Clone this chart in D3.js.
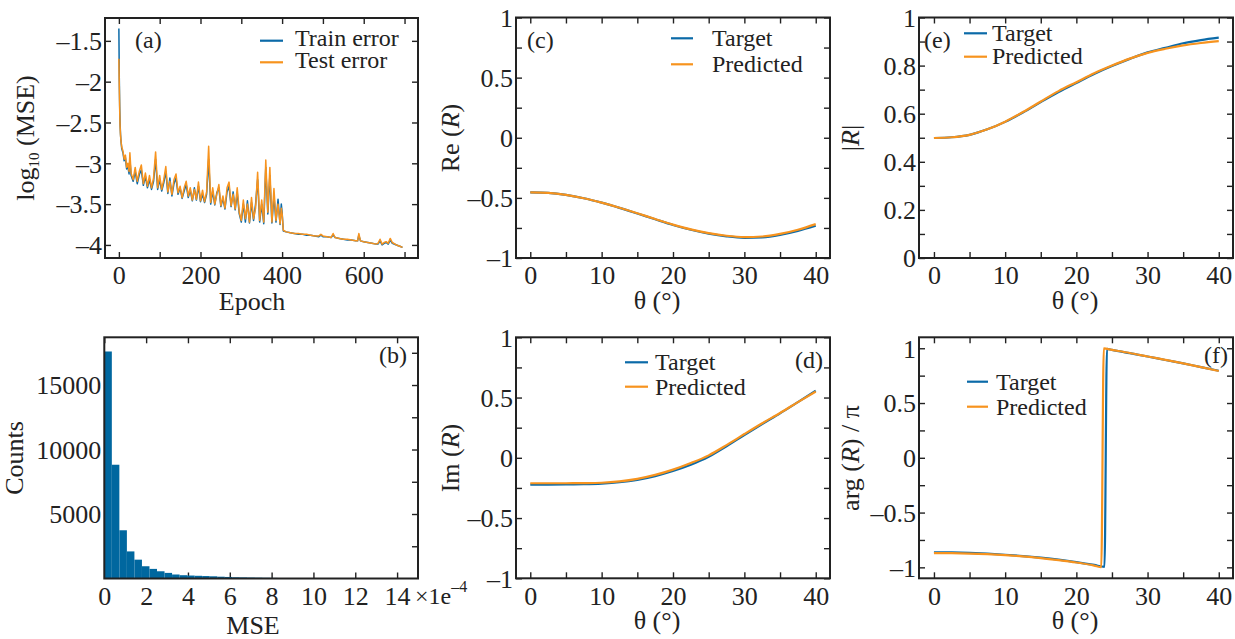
<!DOCTYPE html>
<html>
<head>
<meta charset="utf-8">
<script src="https://cdn.jsdelivr.net/npm/d3@7"></script>
<style>
html, body { margin: 0; padding: 0; background: #fff; }
svg { display: block; font-family: "Liberation Serif", "Times New Roman", serif; }
</style>
</head>
<body>
<svg id="chart" width="1235" height="639"></svg>
<script>
// ---- data ----
// (a) training history, log10(MSE)
const epochs = [
  0, 1, 2, 3, 4, 5, 7, 10, 13, 16,
  19, 22, 25, 27, 30, 35, 40, 45, 50, 55,
  60, 65, 70, 75, 80, 85, 90, 95, 100, 105,
  110, 115, 120, 125, 130, 135, 140, 145, 150, 155,
  160, 165, 170, 175, 180, 185, 190, 195, 200, 205,
  210, 215, 220, 225, 230, 235, 240, 245, 250, 255,
  260, 265, 270, 275, 280, 285, 290, 295, 300, 305,
  310, 315, 320, 325, 330, 335, 340, 345, 350, 355,
  360, 365, 370, 375, 380, 385, 390, 395, 398, 400,
  403, 410, 420, 430, 440, 450, 460, 470, 480, 490,
  495, 500, 510, 520, 525, 530, 540, 550, 560, 570,
  580, 585, 588, 592, 600, 610, 620, 630, 635, 640,
  645, 650, 655, 660, 665, 670, 680, 690, 695
];
const testErr = [
  -1.72, -2.05, -2.35, -2.55, -2.65, -2.72, -2.8, -2.85, -2.95, -2.9,
  -3.05, -3.0, -3.1, -2.87, -3.12, -3.2, -3.05, -3.22, -3.1, -3.02,
  -3.25, -3.12, -3.28, -3.15, -3.3, -3.18, -2.86, -3.3, -3.15, -3.32,
  -3.2, -3.04, -3.35, -3.22, -3.38, -3.2, -3.13, -3.36, -3.28, -3.42,
  -3.3, -3.22, -3.4, -3.3, -3.45, -3.32, -3.44, -3.23, -3.46, -3.33,
  -3.47, -3.35, -2.79, -3.48, -3.3, -3.5, -3.38, -3.26, -3.52, -3.4,
  -3.55, -3.3, -3.23, -3.52, -3.38, -3.56, -3.3, -3.6, -3.7, -3.45,
  -3.68, -3.5, -3.72, -3.42, -3.68, -3.55, -3.11, -3.7, -3.45, -3.72,
  -2.96, -3.6, -3.05, -3.72, -3.31, -3.7, -3.5, -3.74, -3.55, -3.62,
  -3.82, -3.84, -3.85, -3.86, -3.86, -3.87, -3.87, -3.88, -3.89, -3.89,
  -3.87, -3.89, -3.9, -3.91, -3.86, -3.91, -3.92, -3.93, -3.93, -3.94,
  -3.95, -3.95, -3.86, -3.95, -3.96, -3.97, -3.98, -3.99, -3.98, -3.93,
  -3.99, -3.97, -3.96, -3.98, -3.92, -3.97, -4.0, -4.02, -4.03
];
const trainErr = [
  -1.35, -1.95, -2.3, -2.52, -2.64, -2.72, -2.82, -2.87, -2.97, -2.93,
  -3.07, -3.04, -3.13, -2.95, -3.15, -3.22, -3.1, -3.25, -3.14, -3.08,
  -3.27, -3.16, -3.3, -3.2, -3.32, -3.22, -2.95, -3.32, -3.2, -3.34,
  -3.24, -3.1, -3.37, -3.18, -3.4, -3.25, -3.18, -3.38, -3.3, -3.43,
  -3.34, -3.26, -3.42, -3.33, -3.46, -3.3, -3.45, -3.28, -3.47, -3.38,
  -3.48, -3.38, -2.95, -3.5, -3.34, -3.51, -3.36, -3.3, -3.53, -3.43,
  -3.56, -3.35, -3.28, -3.53, -3.35, -3.57, -3.36, -3.62, -3.72, -3.5,
  -3.72, -3.46, -3.73, -3.48, -3.7, -3.5, -3.2, -3.72, -3.5, -3.74,
  -3.05, -3.62, -3.15, -3.73, -3.4, -3.72, -3.44, -3.75, -3.5, -3.6,
  -3.83, -3.84, -3.85, -3.86, -3.87, -3.87, -3.88, -3.88, -3.89, -3.9,
  -3.88, -3.9, -3.9, -3.91, -3.88, -3.91, -3.92, -3.93, -3.94, -3.94,
  -3.95, -3.95, -3.88, -3.95, -3.96, -3.97, -3.98, -3.99, -3.99, -3.95,
  -4.0, -3.98, -3.97, -3.99, -3.94, -3.98, -4.0, -4.02, -4.03
];

// (b) histogram of MSE (x1e-4), bins of 0.36
const binWidth = 0.36;
const histCounts = [
  17600, 8820, 3740, 2100, 1460, 950, 745, 560, 435, 310,
  255, 230, 210, 190, 170, 140, 120, 95, 85, 75,
  65, 55, 45, 20, 12, 8, 5, 3, 2, 1, 1
];

// (c)-(f) reflection coefficient vs angle
const theta = [0, 2.5, 5, 7.5, 10, 12.5, 15, 17.5, 20, 22.5, 25, 27.5, 30, 32.5, 35, 37.5, 40];
const reTarget = [-0.455, -0.459, -0.475, -0.503, -0.54, -0.583, -0.63, -0.678, -0.725, -0.765, -0.797, -0.82, -0.832, -0.828, -0.808, -0.775, -0.732];
const rePred   = [-0.455, -0.459, -0.475, -0.503, -0.54, -0.582, -0.628, -0.676, -0.722, -0.762, -0.793, -0.815, -0.826, -0.821, -0.8, -0.765, -0.718];
const imTarget = [-0.222, -0.222, -0.221, -0.219, -0.214, -0.203, -0.183, -0.152, -0.11, -0.058, 0.008, 0.095, 0.189, 0.28, 0.369, 0.462, 0.556];
const imPred   = [-0.211, -0.211, -0.211, -0.21, -0.207, -0.196, -0.175, -0.142, -0.098, -0.043, 0.02, 0.105, 0.197, 0.287, 0.372, 0.462, 0.55];
const absTarget = [0.499, 0.502, 0.512, 0.535, 0.566, 0.605, 0.648, 0.69, 0.728, 0.765, 0.798, 0.828, 0.855, 0.874, 0.893, 0.906, 0.916];
const absPred   = [0.499, 0.502, 0.512, 0.535, 0.567, 0.607, 0.651, 0.694, 0.731, 0.768, 0.8, 0.829, 0.853, 0.87, 0.884, 0.894, 0.902];
const argThetaT = [0, 2.5, 5, 7.5, 10, 12.5, 15, 17.5, 20, 22.5, 23.95, 24.3, 25, 27.5, 30, 32.5, 35, 37.5, 40];
const argTarget = [-0.862, -0.864, -0.868, -0.875, -0.885, -0.897, -0.912, -0.93, -0.952, -0.978, -0.995, 0.994, 0.985, 0.955, 0.925, 0.893, 0.862, 0.828, 0.795];
const argThetaP = [0, 2.5, 5, 7.5, 10, 12.5, 15, 17.5, 20, 22.5, 23.5, 23.85, 25, 27.5, 30, 32.5, 35, 37.5, 40];
const argPred   = [-0.87, -0.871, -0.874, -0.88, -0.889, -0.9, -0.915, -0.934, -0.956, -0.984, -0.998, 0.998, 0.985, 0.957, 0.925, 0.894, 0.862, 0.828, 0.792];

// ticks
const epochTicks = [0, 100, 200, 300, 400, 500, 600, 700];
const epochLabels = [0, 200, 400, 600];
const logTicks = [-4, -3.5, -3, -2.5, -2, -1.5];
const mseTicks = [0, 2, 4, 6, 8, 10, 12, 14];
const countTicks = [2500, 5000, 7500, 10000, 12500, 15000, 17500];
const countLabels = [5000, 10000, 15000];
const thetaTicks = [0, 5, 10, 15, 20, 25, 30, 35, 40];
const thetaLabels = [0, 10, 20, 30, 40];
const unitTicks = [-1, -0.75, -0.5, -0.25, 0, 0.25, 0.5, 0.75, 1];
const unitLabels = [-1, -0.5, 0, 0.5, 1];
const absTicks = [0, 0.1, 0.2, 0.3, 0.4, 0.5, 0.6, 0.7, 0.8, 0.9, 1];
const absLabels = [0, 0.2, 0.4, 0.6, 0.8, 1];

const blue = "#0b6aa8", orange = "#f7931e", histBlue = "#00679f", ink = "#222";

const svg = d3.select("#chart");
// long dash for negatives, like the original
const fmt = v => d3.format("~g")(v).replace("−", "–");

function panel(o) {
  const x = d3.scaleLinear().domain(o.xd).range([o.l, o.r]);
  const y = d3.scaleLinear().domain(o.yd).range([o.b, o.t]);
  const g = svg.append("g");
  const tick = 6;
  const lab = list => v => list.includes(v) ? fmt(v) : "";

  const ax = [
    g.append("g").attr("transform", `translate(0,${o.b})`)
      .call(d3.axisBottom(x).tickValues(o.xt).tickFormat(lab(o.xl)).tickSize(-tick).tickPadding(8)),
    g.append("g").attr("transform", `translate(0,${o.t})`)
      .call(d3.axisTop(x).tickValues(o.xt).tickFormat("").tickSize(-tick)),
    g.append("g").attr("transform", `translate(${o.l},0)`)
      .call(d3.axisLeft(y).tickValues(o.yt).tickFormat(lab(o.yl)).tickSize(-tick).tickPadding(3)),
    g.append("g").attr("transform", `translate(${o.r},0)`)
      .call(d3.axisRight(y).tickValues(o.yt).tickFormat("").tickSize(-tick))
  ];
  ax.forEach(a => {
    a.attr("font-family", null).attr("font-size", null);
    a.select(".domain").remove();
    a.selectAll(".tick line").attr("stroke", ink).attr("stroke-width", 1.4);
    a.selectAll(".tick text").attr("fill", ink).style("font-size", "26px");
  });
  ax[2].selectAll(".tick text").attr("dy", "0.34em");

  const plot = g.append("g");
  g.append("rect")
    .attr("x", o.l).attr("y", o.t)
    .attr("width", o.r - o.l).attr("height", o.b - o.t)
    .attr("fill", "none").attr("stroke", ink).attr("stroke-width", 2);

  return { g, plot, x, y };
}

function yLabel(g, bx, cy, parts) {
  const t = g.append("text")
    .attr("transform", `translate(${bx},${cy}) rotate(-90)`)
    .attr("text-anchor", "middle")
    .attr("fill", ink)
    .style("font-size", "26px");
  parts.forEach(p => {
    const s = t.append("tspan").text(p.t);
    if (p.i) s.style("font-style", "italic");
    if (p.sub) s.style("font-size", "15px").attr("dy", "5");
    if (p.back) s.attr("dy", "-5");
  });
}

function xLabel(g, cx, by, txt) {
  g.append("text").attr("x", cx).attr("y", by)
    .attr("text-anchor", "middle").attr("fill", ink)
    .style("font-size", "26px").text(txt);
}

function tag(g, x, y, txt, anchor) {
  g.append("text").attr("x", x).attr("y", y)
    .attr("text-anchor", anchor || "start").attr("fill", ink)
    .style("font-size", "24px").text(txt);
}

function legend(g, x0, x1, tx, ys, names, colors, off) {
  names.forEach((n, i) => {
    g.append("line").attr("x1", x0).attr("x2", x1).attr("y1", ys[i]).attr("y2", ys[i])
      .attr("stroke", colors[i]).attr("stroke-width", 2.2);
    g.append("text").attr("x", tx).attr("y", ys[i] + off).attr("fill", ink)
      .style("font-size", "24px").text(n);
  });
}

function curve(p, xs, ys, color, w) {
  p.plot.append("path")
    .datum(xs.map((v, i) => [v, ys[i]]))
    .attr("fill", "none").attr("stroke", color).attr("stroke-width", w)
    .attr("stroke-linejoin", "round")
    .attr("d", d3.line().x(d => p.x(d[0])).y(d => p.y(d[1])).curve(w < 2 ? d3.curveLinear : d3.curveMonotoneX));
}

// ---- (a) ----
const A = panel({ l: 105, r: 418, t: 18, b: 258, xd: [-34, 733], yd: [-4.16, -1.22],
  xt: epochTicks, xl: epochLabels, yt: logTicks, yl: logTicks });
curve(A, epochs, trainErr, blue, 1.5);
curve(A, epochs, testErr, orange, 1.5);
legend(A.g, 260, 283, 295, [40.7, 62.3], ["Train error", "Test error"], [blue, orange], 5.5);
tag(A.g, 135, 47.5, "(a)");
xLabel(A.g, 252, 310, "Epoch");
yLabel(A.g, 43 - 9, 138, [{ t: "log" }, { t: "10", sub: true }, { t: " (MSE)", back: true }]);

// ---- (b) ----
const B = panel({ l: 104.3, r: 418, t: 337.3, b: 578.5, xd: [0, 15], yd: [0, 18700],
  xt: mseTicks, xl: mseTicks, yt: countTicks, yl: countLabels });
B.plot.selectAll("rect").data(histCounts).join("rect")
  .attr("x", (d, i) => B.x(i * binWidth))
  .attr("width", (d, i) => B.x((i + 1) * binWidth) - B.x(i * binWidth))
  .attr("y", d => B.y(d))
  .attr("height", d => B.y(0) - B.y(d))
  .attr("fill", histBlue);
tag(B.g, 407, 362.5, "(b)", "end");
xLabel(B.g, 253, 634, "MSE");
yLabel(B.g, 32 - 9, 458, [{ t: "Counts" }]);
const ex = B.g.append("text").attr("x", 415).attr("y", 604).attr("fill", ink).style("font-size", "24px");
ex.append("tspan").text("×1e");
ex.append("tspan").attr("dy", "-12").style("font-size", "16px").text("–4");

// ---- (c) ----
const C = panel({ l: 516, r: 830, t: 17.5, b: 258, xd: [-2, 42], yd: [-1, 1],
  xt: thetaTicks, xl: thetaLabels, yt: unitTicks, yl: unitLabels });
curve(C, theta, reTarget, blue, 2.2);
curve(C, theta, rePred, orange, 2.2);
legend(C.g, 671, 693, 712, [38.3, 64.3], ["Target", "Predicted"], [blue, orange], 8);
tag(C.g, 527, 47.5, "(c)");
xLabel(C.g, 657, 309, "θ (°)");
yLabel(C.g, 468 - 9, 138, [{ t: "Re (" }, { t: "R", i: true }, { t: ")" }]);

// ---- (d) ----
const D = panel({ l: 516, r: 830, t: 337.3, b: 578.3, xd: [-2, 42], yd: [-1, 1],
  xt: thetaTicks, xl: thetaLabels, yt: unitTicks, yl: unitLabels });
curve(D, theta, imTarget, blue, 2.2);
curve(D, theta, imPred, orange, 2.2);
legend(D.g, 625, 648, 655, [362.3, 386.7], ["Target", "Predicted"], [blue, orange], 8);
tag(D.g, 795, 367.5, "(d)");
xLabel(D.g, 657, 629, "θ (°)");
yLabel(D.g, 468 - 9, 458, [{ t: "Im (" }, { t: "R", i: true }, { t: ")" }]);

// ---- (e) ----
const E = panel({ l: 919, r: 1233, t: 17.5, b: 258, xd: [-2.1, 42], yd: [0, 1],
  xt: thetaTicks, xl: thetaLabels, yt: absTicks, yl: absLabels });
curve(E, theta, absTarget, blue, 2.2);
curve(E, theta, absPred, orange, 2.2);
legend(E.g, 964, 987, 992, [33.3, 56.7], ["Target", "Predicted"], [blue, orange], 7.5);
tag(E.g, 924, 47.5, "(e)");
xLabel(E.g, 1075, 309, "θ (°)");
yLabel(E.g, 868 - 9, 138, [{ t: "|" }, { t: "R", i: true }, { t: "|" }]);

// ---- (f) ----
const F = panel({ l: 919, r: 1233, t: 337.3, b: 578.3, xd: [-2.1, 42], yd: [-1.1, 1.1],
  xt: thetaTicks, xl: thetaLabels, yt: unitTicks, yl: unitLabels });
curve(F, argThetaT, argTarget, blue, 2.2);
curve(F, argThetaP, argPred, orange, 2.2);
legend(F.g, 967, 988, 996, [381.7, 406.7], ["Target", "Predicted"], [blue, orange], 8.3);
tag(F.g, 1228, 362.5, "(f)", "end");
xLabel(F.g, 1075, 629, "θ (°)");
yLabel(F.g, 868 - 9, 458, [{ t: "arg (" }, { t: "R", i: true }, { t: ") / π" }]);
</script>
</body>
</html>
